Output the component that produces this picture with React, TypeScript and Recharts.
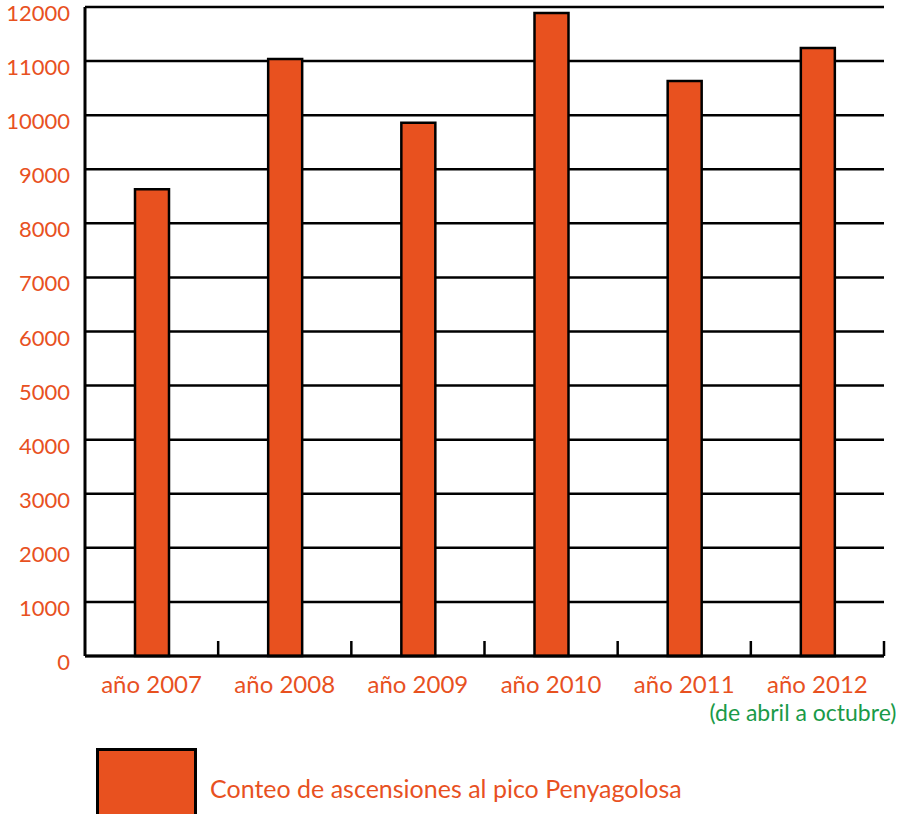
import { Bar, BarChart, CartesianGrid, XAxis, YAxis } from 'recharts'

const years = ['año 2007', 'año 2008', 'año 2009', 'año 2010', 'año 2011', 'año 2012']
const ascents = [8630, 11040, 9860, 11890, 10630, 11240]
const yTicks = [0, 1000, 2000, 3000, 4000, 5000, 6000, 7000, 8000, 9000, 10000, 11000, 12000]
const seriesName = 'Conteo de ascensiones al pico Penyagolosa'
const footnote = '(de abril a octubre)'

const orange = '#e8511f'
const green = '#1a9a48'
const font = 'Lato, "Open Sans", sans-serif'

const data = years.map((year, i) => ({ year, value: ascents[i] }))

const W = 898
const H = 814
const plotLeft = 85
const plotRight = 14
const xAxisHeight = 30
const bandWidth = (W - plotLeft - plotRight) / years.length

function YearTick(props: any) {
  const { x, y, payload, index } = props
  const half = payload?.offset || bandWidth / 2
  const isLast = index === years.length - 1
  return (
    <g>
      <line x1={x + half} x2={x + half} y1={y} y2={y - 15} stroke="#000" strokeWidth={2.5} />
      <text x={x} y={y + 37} textAnchor="middle" fill={orange} fontSize={24} fontFamily={font}>
        {payload.value}
      </text>
      {isLast && (
        <text x={x + 79} y={y + 65} textAnchor="end" fill={green} fontSize={23} fontFamily={font}>
          {footnote}
        </text>
      )}
    </g>
  )
}

function CountTick(props: any) {
  const { x, y, payload } = props
  return (
    <text x={x} y={y + 14} textAnchor="end" fill={orange} fontSize={22} fontFamily={font}>
      {payload.value}
    </text>
  )
}

export default function App() {
  return (
    <div style={{ position: 'absolute', left: 0, top: 0, width: W, height: H, background: '#fff' }}>
      <BarChart
        width={W}
        height={H}
        data={data}
        margin={{ top: 7, right: plotRight, bottom: 158 - xAxisHeight, left: 0 }}
      >
        <CartesianGrid vertical={false} stroke="#000" strokeWidth={2.5} strokeOpacity={1} />
        <XAxis
          dataKey="year"
          height={xAxisHeight}
          axisLine={{ stroke: '#000', strokeWidth: 3 }}
          tickLine={false}
          tickSize={0}
          tickMargin={0}
          interval={0}
          tick={<YearTick />}
        />
        <YAxis
          width={plotLeft}
          domain={[0, 12000]}
          ticks={yTicks}
          interval={0}
          axisLine={{ stroke: '#000', strokeWidth: 3 }}
          tickLine={false}
          tickSize={0}
          tickMargin={15}
          tick={<CountTick />}
        />
        <Bar
          dataKey="value"
          name={seriesName}
          fill={orange}
          stroke="#000"
          strokeWidth={2.5}
          barSize={34}
          isAnimationActive={false}
        />
      </BarChart>
      <div style={{ position: 'absolute', left: 96, top: 748, display: 'flex', alignItems: 'center' }}>
        <div
          style={{
            width: 101,
            height: 70,
            background: orange,
            border: '3px solid #000',
            boxSizing: 'border-box',
          }}
        />
        <span style={{ marginLeft: 13, marginTop: 10, color: orange, fontSize: 25, fontFamily: font }}>
          {seriesName}
        </span>
      </div>
    </div>
  )
}
